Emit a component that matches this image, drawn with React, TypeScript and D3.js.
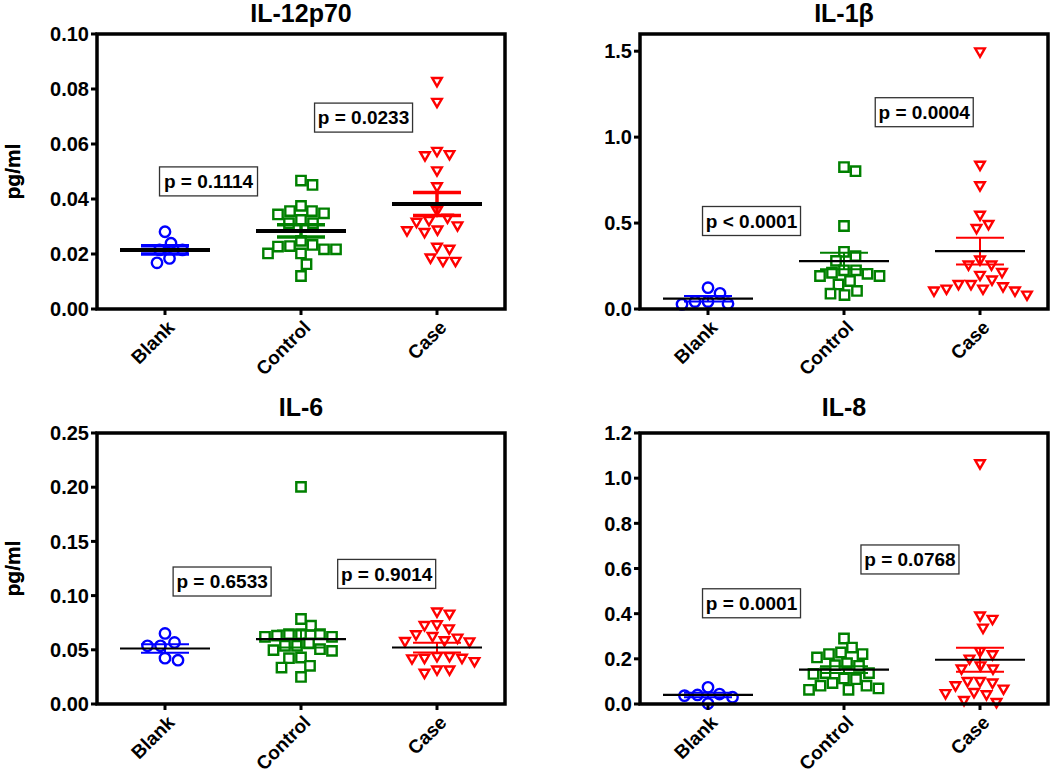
import React from "react";
import * as d3 from "d3";

// ---------- data ----------
const groups = ["Blank", "Control", "Case"];
const groupColors = ["#0000ff", "#008000", "#ff0000"];

// IL-12p70
const il12Blank = [0.0281, 0.0215, 0.0168, 0.0239, 0.0184, 0.0215];
const il12Control = [0.0451, 0.0467, 0.0375, 0.0356, 0.0348, 0.0324, 0.0312, 0.0312, 0.0344, 0.0356, 0.0248, 0.0229, 0.0217, 0.0202, 0.0202, 0.0217, 0.0227, 0.0233, 0.0163, 0.012];
const il12Case = [0.083, 0.0754, 0.0576, 0.0564, 0.056, 0.0505, 0.0447, 0.036, 0.0324, 0.0305, 0.0287, 0.0281, 0.029, 0.0318, 0.0333, 0.0227, 0.0188, 0.0176, 0.0176, 0.022];
const il12Means = [0.0215, 0.0284, 0.0382];
const il12Sem = [0.0015, 0.0022, 0.0042];
const il12Ticks = [0, 0.02, 0.04, 0.06, 0.08, 0.1];
const il12PLabels = ["p = 0.1114", "p = 0.0233"];
const il12PPos = [[0.32, 0.0464], [1.46, 0.0696]];

// IL-1β
const il1bBlank = [0.091, 0.043, 0.027, 0.031, 0.043, 0.124];
const il1bControl = [0.802, 0.826, 0.483, 0.308, 0.333, 0.28, 0.225, 0.211, 0.192, 0.192, 0.205, 0.225, 0.163, 0.143, 0.105, 0.081, 0.089];
const il1bCase = [1.5, 0.841, 0.721, 0.55, 0.473, 0.496, 0.289, 0.26, 0.217, 0.2, 0.26, 0.173, 0.147, 0.12, 0.109, 0.085, 0.109, 0.12, 0.134, 0.147];
const il1bMeans = [0.06, 0.279, 0.337];
const il1bSem = [0.016, 0.048, 0.078];
const il1bTicks = [0, 0.5, 1.0, 1.5];
const il1bPLabels = ["p < 0.0001", "p = 0.0004"];
const il1bPPos = [[0.32, 0.512], [1.59, 1.145]];

// IL-6
const il6Blank = [0.0651, 0.0537, 0.0568, 0.0537, 0.0404, 0.0423];
const il6Control = [0.2003, 0.0784, 0.0722, 0.0645, 0.062, 0.0645, 0.063, 0.062, 0.0645, 0.0559, 0.0537, 0.0497, 0.049, 0.0506, 0.0537, 0.0429, 0.0423, 0.0352, 0.0336, 0.025];
const il6Case = [0.0855, 0.0836, 0.0731, 0.07, 0.0738, 0.0645, 0.0614, 0.0583, 0.058, 0.059, 0.063, 0.0444, 0.0398, 0.0429, 0.0444, 0.0429, 0.0423, 0.0321, 0.029, 0.0321];
const il6Means = [0.0512, 0.0599, 0.0521];
const il6Sem = [0.004, 0.0078, 0.0045];
const il6Ticks = [0, 0.05, 0.1, 0.15, 0.2, 0.25];
const il6PLabels = ["p = 0.6533", "p = 0.9014"];
const il6PPos = [[0.42, 0.113], [1.63, 0.12]];

// IL-8
const il8Blank = [0.044, 0.037, 0.074, 0.03, 0.002, 0.04];
const il8Control = [0.29, 0.25, 0.221, 0.206, 0.221, 0.228, 0.181, 0.169, 0.137, 0.133, 0.137, 0.172, 0.11, 0.081, 0.069, 0.063, 0.063, 0.081, 0.093, 0.113];
const il8Case = [1.067, 0.393, 0.378, 0.339, 0.235, 0.202, 0.221, 0.158, 0.172, 0.158, 0.103, 0.096, 0.084, 0.103, 0.054, 0.044, 0.049, 0.069, 0.01, 0.019];
const il8Means = [0.04, 0.152, 0.196];
const il8Sem = [0.01, 0.015, 0.053];
const il8Ticks = [0, 0.2, 0.4, 0.6, 0.8, 1.0, 1.2];
const il8PLabels = ["p = 0.0001", "p = 0.0768"];
const il8PPos = [[0.32, 0.446], [1.485, 0.64]];

const FONT = "'Liberation Sans', Arial, Helvetica, sans-serif";

type PanelProps = {
  title: string;
  series: number[][];
  means: number[];
  sems: number[];
  yMax: number;
  ticks: number[];
  fmt: string;
  pLabels: string[];
  pPos: number[][];
  left: number;
  top: number;
  width: number;
  height: number;
  titleY: number;
  meanW: number;
  semW: number;
};

function swarm(vals: number[], y: (v: number) => number, d: number): number[] {
  const idx = vals.map((_, i) => i).sort((a, b) => vals[b] - vals[a]);
  const placed: { x: number; y: number }[] = [];
  const out: number[] = new Array(vals.length).fill(0);
  for (const i of idx) {
    const py = y(vals[i]);
    let best = 0;
    for (let k = 0; k < 600; k++) {
      const dx = k === 0 ? 0 : (k % 2 === 1 ? 1 : -1) * Math.ceil(k / 2) * 0.5;
      if (placed.every((q) => (q.x - dx) ** 2 + (q.y - py) ** 2 >= d * d)) {
        best = dx;
        break;
      }
    }
    placed.push({ x: best, y: py });
    out[i] = best;
  }
  return out;
}

const symCircle = d3.symbol().type(d3.symbolCircle).size(85)() as string;
const symSquare = d3.symbol().type(d3.symbolSquare).size(88)() as string;
const symTri = d3.symbol().type(d3.symbolTriangle).size(40)() as string;
const shapes = [symCircle, symSquare, symTri];
const swarmD = [13, 12, 12.5];

function Panel(p: PanelProps) {
  const x = d3.scaleLinear().domain([-0.5, 2.5]).range([p.left, p.left + p.width]);
  const y = d3.scaleLinear().domain([0, p.yMax]).range([p.top + p.height, p.top]);
  const fmt = d3.format(p.fmt);
  const bottom = p.top + p.height;
  return (
    <g fontFamily={FONT} fontWeight="bold">
      <text x={x(1)} y={p.titleY} textAnchor="middle" fontSize={25}>
        {p.title}
      </text>
      <text
        transform={`translate(20,${p.top + p.height / 2}) rotate(-90)`}
        textAnchor="middle"
        fontSize={21}
      >
        pg/ml
      </text>
      {/* points */}
      {p.series.map((vals, gi) => {
        const offs = swarm(vals, y, swarmD[gi]);
        return (
          <g key={gi} stroke={groupColors[gi]} strokeWidth={2.4} fill="white">
            {vals.map((v, i) => (
              <path
                key={i}
                d={shapes[gi]}
                transform={`translate(${x(gi) + offs[i]},${y(v)})${gi === 2 ? " rotate(180)" : ""}`}
              />
            ))}
          </g>
        );
      })}
      {/* SEM bars */}
      {p.means.map((m, gi) => (
        <g key={gi} stroke={groupColors[gi]} strokeWidth={p.semW}>
          <line x1={x(gi)} x2={x(gi)} y1={y(m - p.sems[gi])} y2={y(m + p.sems[gi])} />
          <line x1={x(gi) - 24} x2={x(gi) + 24} y1={y(m + p.sems[gi])} y2={y(m + p.sems[gi])} />
          <line x1={x(gi) - 24} x2={x(gi) + 24} y1={y(m - p.sems[gi])} y2={y(m - p.sems[gi])} />
        </g>
      ))}
      {/* mean lines */}
      {p.means.map((m, gi) => (
        <line key={gi} x1={x(gi) - 45} x2={x(gi) + 45} y1={y(m)} y2={y(m)} stroke="black" strokeWidth={p.meanW} />
      ))}
      {/* frame */}
      <rect x={p.left} y={p.top} width={p.width} height={p.height} fill="none" stroke="black" strokeWidth={3.5} />
      {/* y ticks */}
      {p.ticks.map((t) => (
        <g key={t}>
          <line x1={p.left - 6} x2={p.left} y1={y(t)} y2={y(t)} stroke="black" strokeWidth={3} />
          <text x={p.left - 8} y={y(t)} dy="0.36em" textAnchor="end" fontSize={20}>
            {fmt(t)}
          </text>
        </g>
      ))}
      {/* x ticks */}
      {groups.map((g, gi) => (
        <g key={g}>
          <line x1={x(gi)} x2={x(gi)} y1={bottom} y2={bottom + 6} stroke="black" strokeWidth={3} />
          <text
            transform={`translate(${x(gi) + 1},${bottom + 10}) rotate(-45)`}
            dy="0.72em"
            textAnchor="end"
            fontSize={19}
          >
            {g}
          </text>
        </g>
      ))}
      {/* p-value boxes */}
      {p.pLabels.map((lab, i) => {
        const cx = x(p.pPos[i][0]);
        const cy = y(p.pPos[i][1]);
        return (
          <g key={lab}>
            <rect x={cx - 49} y={cy - 14.5} width={98} height={29} fill="white" stroke="#333" strokeWidth={1.3} />
            <text x={cx} y={cy} dy="0.36em" textAnchor="middle" fontSize={19}>
              {lab}
            </text>
          </g>
        );
      })}
    </g>
  );
}

export default function App() {
  return (
    <svg
      width={1050}
      height={778}
      style={{ position: "absolute", left: 0, top: 0, background: "white" }}
    >
      <rect width={1050} height={778} fill="white" />
      <Panel title="IL-12p70" series={[il12Blank, il12Control, il12Case]} means={il12Means} sems={il12Sem}
        yMax={0.1} ticks={il12Ticks} fmt=".2f" pLabels={il12PLabels} pPos={il12PPos}
        left={97} top={34} width={408} height={275} titleY={22} meanW={4} semW={3.5} />
      <Panel title="IL-1β" series={[il1bBlank, il1bControl, il1bCase]} means={il1bMeans} sems={il1bSem}
        yMax={1.6} ticks={il1bTicks} fmt=".1f" pLabels={il1bPLabels} pPos={il1bPPos}
        left={640} top={34} width={408} height={275} titleY={22} meanW={2.2} semW={2} />
      <Panel title="IL-6" series={[il6Blank, il6Control, il6Case]} means={il6Means} sems={il6Sem}
        yMax={0.25} ticks={il6Ticks} fmt=".2f" pLabels={il6PLabels} pPos={il6PPos}
        left={97} top={433} width={408} height={271} titleY={416} meanW={2.2} semW={2} />
      <Panel title="IL-8" series={[il8Blank, il8Control, il8Case]} means={il8Means} sems={il8Sem}
        yMax={1.2} ticks={il8Ticks} fmt=".1f" pLabels={il8PLabels} pPos={il8PPos}
        left={640} top={433} width={408} height={271} titleY={416} meanW={2.2} semW={2} />
    </svg>
  );
}
